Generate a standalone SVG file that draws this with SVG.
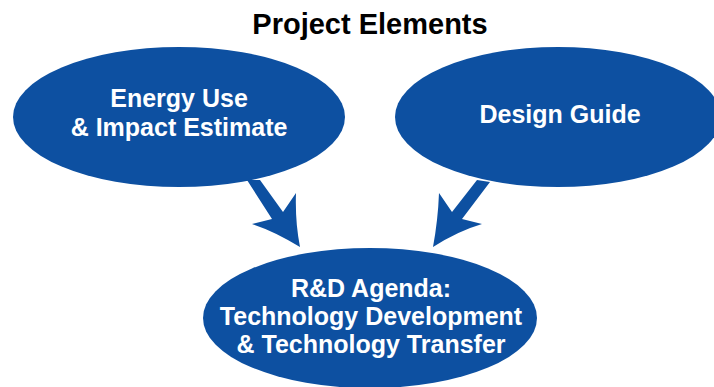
<svg xmlns="http://www.w3.org/2000/svg" width="714" height="387" viewBox="0 0 714 387">
<style>
.node{fill:#0D50A1;}
.lbl{font-family:"Liberation Sans",Arial,sans-serif;font-weight:bold;font-size:25px;fill:#ffffff;text-anchor:middle;}
.title{font-family:"Liberation Sans",Arial,sans-serif;font-weight:bold;font-size:29px;fill:#000000;text-anchor:middle;}
.arrow{fill:#0D50A1;}
</style>
<rect width="714" height="387" fill="#ffffff"/>
<text class="title" x="370" y="34">Project Elements</text>
<g id="connectors">
<path class="arrow" d="M247,180 L260,180 L283,212 L296,193 Q295,222 300,247 Q274,231 252,224 L272,219 Z"/>
<path class="arrow" d="M477,180 L490,182 L462,219 L482,224 Q458,231 433,247 Q438,220 439,193 L452,212 Z"/>
</g>
<g id="energy">
<ellipse class="node" cx="179" cy="117" rx="166" ry="70"/>
<text class="lbl" x="179" y="107">Energy Use</text>
<text class="lbl" x="179" y="136">&amp; Impact Estimate</text>
</g>
<g id="design">
<ellipse class="node" cx="558" cy="117" rx="163" ry="70"/>
<text class="lbl" x="560" y="123">Design Guide</text>
</g>
<g id="rnd">
<ellipse class="node" cx="370" cy="318" rx="167" ry="70"/>
<text class="lbl" x="371" y="297">R&amp;D Agenda:</text>
<text class="lbl" x="371" y="325">Technology Development</text>
<text class="lbl" x="371" y="353">&amp; Technology Transfer</text>
</g>
</svg>
